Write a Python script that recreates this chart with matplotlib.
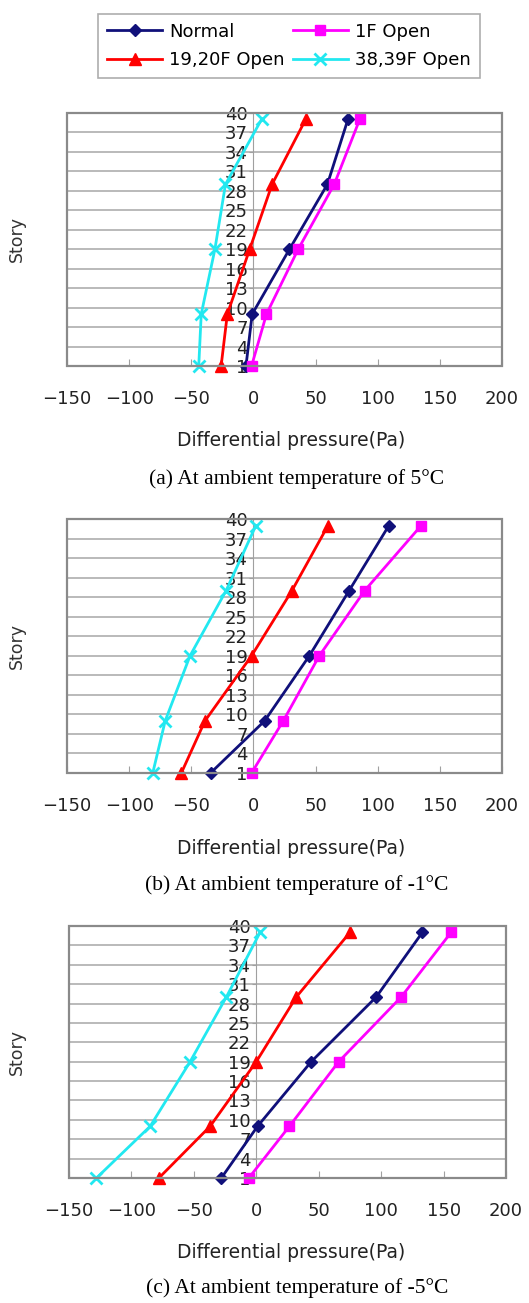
import matplotlib.pyplot as plt
import numpy as np
from matplotlib.patches import Rectangle

# stories where pressure was computed
stories = [1, 9, 19, 29, 39]
story_ticks = list(range(1, 41, 3))
x_ticks = [-150, -100, -50, 0, 50, 100, 150, 200]

# (a) 5C
a_normal = [-6, -1, 29, 59.5, 76]
a_1f = [-1.5, 10.5, 36, 65, 85.5]
a_1920f = [-26, -21, -3, 15, 42]
a_3839f = [-44, -42, -31, -22.5, 6.5]

# (b) -1C
b_normal = [-34.5, 9, 45, 77, 109]
b_1f = [-1.5, 24, 53, 89.5, 135]
b_1920f = [-58, -39, -1.5, 31, 60]
b_3839f = [-81, -71, -51, -22, 2]

# (c) -5C
c_normal = [-28, 1, 44, 96, 133]
c_1f = [-6, 26.5, 66, 116, 156]
c_1920f = [-78, -37, 0, 32, 75]
c_3839f = [-128, -85, -53, -24, 3]

labels = ["Normal", "1F Open", "19,20F Open", "38,39F Open"]
colors = ["#10107a", "#ff00ff", "#ff0000", "#22e8f0"]
markers = ["D", "s", "^", "x"]
msizes = [6, 7.5, 8, 9]

panels = [
    ([a_normal, a_1f, a_1920f, a_3839f], "(a) At ambient temperature of 5\u00b0C"),
    ([b_normal, b_1f, b_1920f, b_3839f], "(b) At ambient temperature of -1\u00b0C"),
    ([c_normal, c_1f, c_1920f, c_3839f], "(c) At ambient temperature of -5\u00b0C"),
]

W, H = 529, 1303
fig = plt.figure(figsize=(W / 100, H / 100), dpi=100)

# pixel boxes: left, top, right, bottom ; then xlabel y, caption y
boxes = [
    (67, 113, 502, 366, 441, 479),
    (67, 519, 502, 773, 848, 885),
    (69, 926, 506, 1178, 1252, 1288),
]

handles = []
for (series, caption), (l, t, r, b, yl, yc) in zip(panels, boxes):
    ax = fig.add_axes([l / W, 1 - b / H, (r - l) / W, (b - t) / H])
    for vals, lab, col, mk, ms in zip(series, labels, colors, markers, msizes):
        h, = ax.plot(vals, stories, color=col, marker=mk, markersize=ms,
                     markeredgewidth=2 if mk == "x" else 1, lw=2,
                     label=lab, zorder=4, clip_on=False)
        if len(handles) < 4:
            handles.append(h)
    ax.set_xlim(-150, 200)
    ax.set_ylim(1, 40)
    ax.set_xticks(x_ticks)
    ax.set_yticks(story_ticks)
    ax.yaxis.grid(True, color="#b4b4b4", lw=1.3, zorder=0)
    # value axis crosses at x = 0
    ax.spines["left"].set_position(("data", 0))
    ax.spines["left"].set_color("#a0a0a0")
    ax.spines["left"].set_linewidth(0.8)
    for s in ["top", "right", "bottom"]:
        ax.spines[s].set_visible(False)
    ax.add_patch(Rectangle((0, 0), 1, 1, transform=ax.transAxes, fill=False,
                           edgecolor="#8a8a8a", lw=1.6, zorder=5, clip_on=False))
    ax.tick_params(axis="y", direction="out", length=3, color="#a0a0a0",
                   labelsize=13, pad=1, labelcolor="#222222")
    ax.tick_params(axis="x", direction="in", length=5, color="#a0a0a0",
                   labelsize=13, pad=17, labelcolor="#222222")
    for tl in ax.get_yticklabels():
        tl.set_zorder(3)
    fig.text(17 / W, 1 - ((t + b) / 2) / H, "Story", rotation=90,
             ha="center", va="center", fontsize=12.5, color="#333333")
    fig.text(291 / W, 1 - yl / H, "Differential pressure(Pa)", ha="center",
             va="center", fontsize=13.5, color="#222222")
    fig.text(297 / W, 1 - yc / H, caption, ha="center", va="center",
             fontsize=15.5, family="Liberation Serif")

# row-wise legend order: Normal, 1F / 19,20F, 38,39F
leg_handles = [handles[0], handles[2], handles[1], handles[3]]
leg = fig.legend(handles=leg_handles, ncol=2, loc="center",
                 bbox_to_anchor=(289 / W, 1 - 46 / H), fontsize=13,
                 handlelength=3.0, columnspacing=0.5, handletextpad=0.4,
                 frameon=True, fancybox=False, borderpad=0.5, labelspacing=0.6)
leg.get_frame().set_edgecolor("#999999")
leg.get_frame().set_linewidth(1.2)

fig.savefig("out.png", dpi=100)
